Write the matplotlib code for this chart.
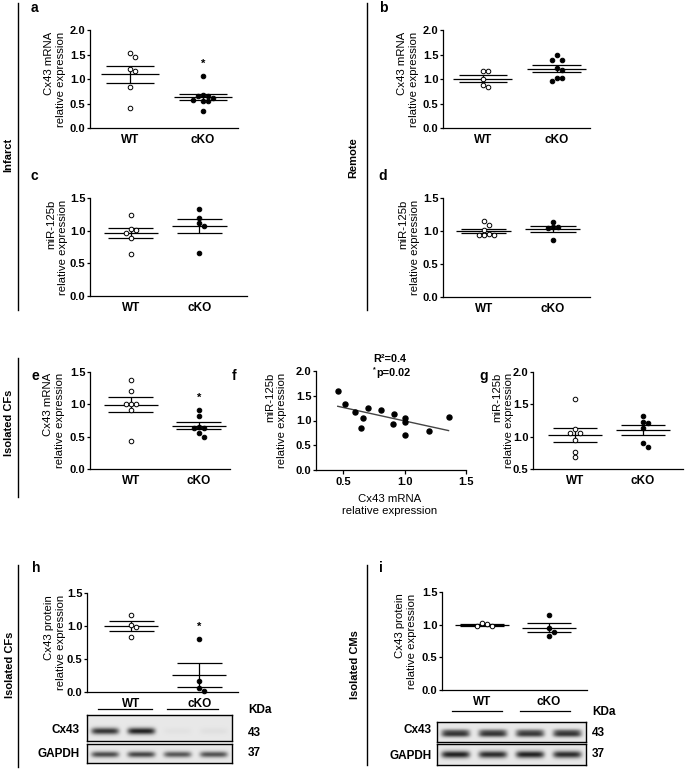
import numpy as np
import matplotlib
matplotlib.use('Agg')
import matplotlib.pyplot as plt
from matplotlib.lines import Line2D

plt.rcParams['font.family'] = ['Liberation Sans', 'DejaVu Sans']

W, H = 685, 770
fig = plt.figure(figsize=(W / 100, H / 100), dpi=100)

# ---------------- data ----------------
groups = ['WT', 'cKO']

a_wt = [1.54, 1.44, 1.20, 1.17, 0.83, 0.40]
a_cko = [1.06, 0.68, 0.66, 0.65, 0.62, 0.58, 0.55, 0.55, 0.35]
b_wt = [1.16, 1.16, 1.00, 0.87, 0.84]
b_cko = [1.48, 1.39, 1.39, 1.22, 1.18, 1.03, 1.03, 0.95]
c_wt = [1.245, 1.005, 1.025, 0.964, 0.893, 0.638]
c_cko = [1.33, 1.19, 1.11, 1.07, 0.66]
d_wt = [1.15, 1.09, 1.02, 0.95, 0.94, 0.94, 0.94]
d_cko = [1.14, 1.06, 1.04, 1.06, 0.87]
e_wt = [1.38, 1.21, 1.01, 1.01, 1.01, 0.92, 0.435]
e_cko = [0.91, 0.82, 0.65, 0.64, 0.63, 0.56, 0.49]
f_x = [0.457, 0.516, 0.594, 0.645, 0.66, 0.70, 0.807, 0.909, 0.917, 1.005, 1.005, 1.005, 1.198, 1.358]
f_y = [1.60, 1.34, 1.17, 0.84, 1.05, 1.255, 1.21, 0.92, 1.13, 1.05, 0.97, 0.70, 0.785, 1.07]
g_wt = [1.585, 1.12, 1.053, 1.053, 0.95, 0.77, 0.68]
g_cko = [1.32, 1.23, 1.205, 1.13, 0.90, 0.84]
h_wt = [1.17, 1.02, 0.98, 0.83]
h_cko = [0.80, 0.17, 0.06, 0.01]
i_wt = [1.03, 1.007, 0.98, 0.98]
i_cko = [1.144, 0.95, 0.89, 0.83]

f_stats = ['R\u00b2=0.4', 'p=0.02']

# western blot band intensities (lanes: WT, WT, cKO, cKO)
h_cx43_bands = [0.85, 0.95, 0.03, 0.04]
h_gapdh_bands = [0.75, 0.78, 0.70, 0.72]
i_cx43_bands = [0.80, 0.80, 0.78, 0.80]
i_gapdh_bands = [0.95, 0.90, 0.95, 0.90]
kda_cx43, kda_gapdh = '43', '37'

# ---------------- helpers ----------------
def rect(l, t, r, b):
    return [l / W, 1 - b / H, (r - l) / W, (b - t) / H]


def ftext(x, y, s, **kw):
    kw.setdefault('ha', 'center')
    kw.setdefault('va', 'center')
    return fig.text(x / W, 1 - y / H, s, **kw)


def fline(x0, y0, x1, y1, lw=1.0):
    fig.add_artist(Line2D([x0 / W, x1 / W], [1 - y0 / H, 1 - y1 / H],
                          transform=fig.transFigure, color='black', lw=lw))


TICK_FS = 8
LAB_FS = 8.2
CAT_FS = 8.5
SIDE_FS = 8
LET_FS = 10


def style_axes(ax):
    for s in ['top', 'right']:
        ax.spines[s].set_visible(False)
    for s in ['left', 'bottom']:
        ax.spines[s].set_linewidth(0.9)
    ax.tick_params(axis='y', direction='out', length=2.5, width=0.9, pad=0.8,
                   labelsize=TICK_FS)
    for lab in ax.get_yticklabels():
        lab.set_fontweight('bold')


def swarm(ax, x0, vals, d_px=5.0):
    pts_y = ax.transData.transform(np.column_stack([np.full(len(vals), x0), vals]))[:, 1]
    bbox = ax.get_window_extent()
    xr = ax.get_xlim()
    px_per_x = bbox.width / (xr[1] - xr[0])
    order = np.argsort(-np.asarray(vals))
    placed = []
    offs = np.zeros(len(vals))
    cands = [0]
    for k in range(1, 8):
        cands += [k * d_px, -k * d_px]
    for idx in order:
        y = pts_y[idx]
        for c in cands:
            if all((c - px) ** 2 + (y - py) ** 2 >= d_px ** 2 for px, py in placed):
                offs[idx] = c
                placed.append((c, y))
                break
    return x0 + offs / px_per_x


def dot_panel(box, ylim, yticks, wt, cko, xlim, ylabel, lab_x, star=False):
    ax = fig.add_axes(rect(*box))
    ax.set_xlim(xlim)
    ax.set_ylim(ylim)
    ax.set_yticks(yticks)
    ax.set_yticklabels(['%.1f' % t for t in yticks])
    style_axes(ax)
    ax.set_xticks([1, 2])
    ax.set_xticklabels(groups, fontsize=CAT_FS, fontweight='bold')
    ax.tick_params(axis='x', length=0, pad=4)
    for i, (vals, filled) in enumerate([(wt, False), (cko, True)]):
        x0 = i + 1
        xs = swarm(ax, x0, vals)
        m = np.mean(vals)
        s = np.std(vals, ddof=1) / np.sqrt(len(vals))
        ax.hlines(m, x0 - 0.40, x0 + 0.40, color='black', lw=0.9, zorder=2)
        ax.hlines([m - s, m + s], x0 - 0.33, x0 + 0.33, color='black', lw=0.9, zorder=2)
        ax.vlines(x0, m - s, m + s, color='black', lw=0.9, zorder=2)
        ax.plot(xs, vals, 'o', ms=3.3, mew=0.7, mec='black',
                mfc='black' if filled else 'white', zorder=3, clip_on=False)
        if star and filled:
            ax.annotate('*', (x0, max(vals)), xytext=(0, 5), textcoords='offset points',
                        ha='center', va='bottom', fontsize=8, fontweight='bold')
    ymid = (box[1] + box[3]) / 2
    ftext(lab_x, ymid, ylabel, rotation=90, multialignment='right', fontsize=LAB_FS)
    return ax


cx_lab = 'Cx43 mRNA\nrelative expression'
mi_lab = 'miR-125b\nrelative expression'
pr_lab = 'Cx43 protein\nrelative expression'

# a, b
dot_panel((90, 30, 238, 128), (0, 2), [0, 0.5, 1.0, 1.5, 2.0], a_wt, a_cko,
          (0.45, 2.48), cx_lab, 55, star=True)
dot_panel((443, 30, 590, 128), (0, 2), [0, 0.5, 1.0, 1.5, 2.0], b_wt, b_cko,
          (0.46, 2.45), cx_lab, 408)
# c, d
dot_panel((90, 198, 247, 296), (0, 1.5), [0, 0.5, 1.0, 1.5], c_wt, c_cko,
          (0.40, 2.70), mi_lab, 57)
dot_panel((443, 198, 590, 297), (0, 1.5), [0, 0.5, 1.0, 1.5], d_wt, d_cko,
          (0.41, 2.54), mi_lab, 409)
# e
dot_panel((90, 372, 230, 469), (0, 1.5), [0, 0.5, 1.0, 1.5], e_wt, e_cko,
          (0.40, 2.46), cx_lab, 54, star=True)
# g
dot_panel((533, 372, 683, 469), (0.5, 2.0), [0.5, 1.0, 1.5, 2.0], g_wt, g_cko,
          (0.38, 2.59), mi_lab, 503)
# h, i
axh = dot_panel((87, 593, 238, 692), (0, 1.5), [0, 0.5, 1.0, 1.5], h_wt, h_cko,
                (0.35, 2.57), pr_lab, 55, star=True)
axi = dot_panel((442, 592, 587, 690), (0, 1.5), [0, 0.5, 1.0, 1.5], i_wt, i_cko,
                (0.40, 2.57), pr_lab, 406)

# f: correlation
axf = fig.add_axes(rect(316, 371, 466, 470))
axf.set_xlim(0.28, 1.5)
axf.set_ylim(0, 2)
axf.set_yticks([0, 0.5, 1.0, 1.5, 2.0])
axf.set_yticklabels(['0.0', '0.5', '1.0', '1.5', '2.0'])
axf.set_xticks([0.5, 1.0, 1.5])
axf.set_xticklabels(['0.5', '1.0', '1.5'])
style_axes(axf)
axf.tick_params(axis='x', direction='out', length=3, width=0.9, pad=2, labelsize=TICK_FS)
for lab in axf.get_xticklabels():
    lab.set_fontweight('bold')
axf.plot(f_x, f_y, 'o', ms=3.6, color='black', zorder=3)
k, b0 = np.polyfit(f_x, f_y, 1)
xx = np.array([min(f_x), max(f_x)])
axf.plot(xx, k * xx + b0, color='#444444', lw=1.0, zorder=2)
ftext(276, 420, mi_lab, rotation=90, multialignment='right', fontsize=LAB_FS)
ftext(390, 505, 'Cx43 mRNA\nrelative expression', fontsize=LAB_FS, linespacing=1.25)
ftext(373, 359, f_stats[0], ha='left', fontsize=7.8, fontweight='bold')
ftext(373, 370, '*', ha='left', fontsize=5, fontweight='bold')
ftext(376, 373, f_stats[1], ha='left', fontsize=7.8, fontweight='bold')

# panel letters
for let, x, y in [('a', 34, 8), ('b', 383, 8), ('c', 34, 176), ('d', 383, 176),
                  ('e', 35, 376), ('f', 234, 376), ('g', 484, 376),
                  ('h', 36, 568), ('i', 381, 568)]:
    ftext(x, y, let, fontsize=LET_FS, fontweight='bold')

# side labels and lines
fline(18, 3, 18, 310)
fline(367, 3, 367, 310)
ftext(8, 155, 'Infarct', rotation=90, fontsize=SIDE_FS, fontweight='bold')
ftext(353, 158, 'Remote', rotation=90, fontsize=SIDE_FS, fontweight='bold')
fline(18, 358, 18, 497)
ftext(9, 423, 'Isolated CFs', rotation=90, fontsize=SIDE_FS, fontweight='bold')
fline(18, 565, 18, 767)
ftext(10, 665, 'Isolated CFs', rotation=90, fontsize=SIDE_FS, fontweight='bold')
fline(367, 565, 367, 765)
ftext(355, 665, 'Isolated CMs', rotation=90, fontsize=SIDE_FS, fontweight='bold')


# ---------------- western blots ----------------
def blot(box, intens, band_y, band_h, double=False, bg=0.91):
    l, t, r, b = box
    ax = fig.add_axes(rect(*box))
    nx, ny = (r - l) * 4, (b - t) * 4
    X, Y = np.meshgrid(np.linspace(0, 1, nx), np.linspace(0, 1, ny))
    n = len(intens)
    dark = np.zeros((ny, nx))
    for j, v in enumerate(intens):
        cx = (j + 0.5) / n
        px = np.exp(-((X - cx) / 0.095) ** 6)
        if double:
            py = 0.55 * np.exp(-((Y - (band_y - 0.17)) / (band_h * 0.8)) ** 2) + \
                 1.0 * np.exp(-((Y - band_y) / band_h) ** 2)
        else:
            py = np.exp(-((Y - band_y) / band_h) ** 2)
        dark += v * px * py
    img = bg - 0.82 * np.clip(dark, 0, 1.1)
    ax.imshow(img, cmap='gray', vmin=0, vmax=1, aspect='auto', interpolation='bilinear')
    ax.set_xticks([])
    ax.set_yticks([])
    for s in ax.spines.values():
        s.set_linewidth(1.0)
    return ax


blot((87, 715, 232, 741), h_cx43_bands, 0.62, 0.13)
blot((87, 744, 232, 763), h_gapdh_bands, 0.55, 0.16)
blot((437, 722, 586, 742), i_cx43_bands, 0.62, 0.14, double=True)
blot((437, 744, 586, 765), i_gapdh_bands, 0.50, 0.17)

# blot annotations (h)
fline(98, 709, 152, 709, lw=0.9)
fline(167, 709, 218, 709, lw=0.9)
ftext(248, 710, 'KDa', ha='left', fontsize=8.5, fontweight='bold')
ftext(80, 730, 'Cx43', ha='right', fontsize=8.5, fontweight='bold')
ftext(80, 754, 'GAPDH', ha='right', fontsize=8.5, fontweight='bold')
ftext(248, 733, kda_cx43, ha='left', fontsize=8.5, fontweight='bold')
ftext(248, 753, kda_gapdh, ha='left', fontsize=8.5, fontweight='bold')
# blot annotations (i)
fline(452, 711, 502, 711, lw=0.9)
fline(520, 711, 570, 711, lw=0.9)
ftext(592, 712, 'KDa', ha='left', fontsize=8.5, fontweight='bold')
ftext(432, 730, 'Cx43', ha='right', fontsize=8.5, fontweight='bold')
ftext(432, 756, 'GAPDH', ha='right', fontsize=8.5, fontweight='bold')
ftext(592, 733, kda_cx43, ha='left', fontsize=8.5, fontweight='bold')
ftext(592, 754, kda_gapdh, ha='left', fontsize=8.5, fontweight='bold')

fig.savefig('out.png', dpi=100, facecolor='white')
